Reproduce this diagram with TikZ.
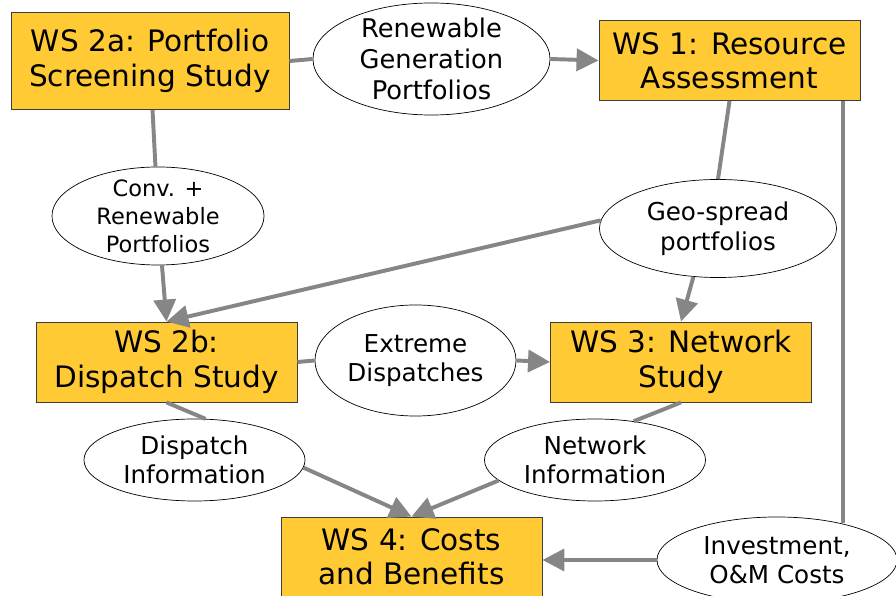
\documentclass[tikz,border=0pt]{standalone}
\usepackage{fontspec}
\setmainfont{DejaVu Sans}
\usetikzlibrary{shapes.geometric,arrows.meta}
\definecolor{wsgold}{RGB}{255,202,52}
\definecolor{wsedge}{RGB}{60,60,60}
\definecolor{flowgray}{RGB}{134,134,134}

\begin{document}
\begin{tikzpicture}[x=0.025cm, y=-0.025cm,
		ws/.style={draw=wsedge, line width=0.6pt, fill=wsgold, minimum width=6.525cm, minimum height=2cm, align=center, font=\fontsize{21}{24.5}\selectfont},
		info/.style={ellipse, draw=black, line width=0.5pt, fill=white, inner sep=-1cm, align=center, font=\fontsize{17.5}{21}\selectfont},
		link/.style={draw=flowgray, line width=2.8pt},
		flow/.style={link, -{Triangle[length=0.55cm, width=0.55cm]}}]
	\useasboundingbox (0,0) rectangle (896,596);
	
	% 1. work streams
	\node[ws, minimum width=6.95cm, minimum height=2.425cm] (ws2a) at (150,61) {WS 2a: Portfolio\\Screening Study};
	\node[ws] (ws1) at (729.5,60.5) {WS 1: Resource\\Assessment};
	\node[ws] (ws2b) at (166.5,362) {WS 2b:\\Dispatch Study};
	\node[ws] (ws3) at (681,362) {WS 3: Network\\Study};
	\node[ws] (ws4) at (411.5,557) {WS 4: Costs\\and Benefits};
	
	% 2. exchanged data
	\node[info, minimum width=5.925cm, minimum height=2.8cm, font=\fontsize{18.3}{22}\selectfont] (renew) at (431.5,59) {Renewable\\Generation\\Portfolios};
	\node[info, minimum width=5.3cm, minimum height=2.45cm, font=\fontsize{16}{20}\selectfont] (conv) at (158,216) {Conv. +\\Renewable\\Portfolios};
	\node[info, minimum width=5.925cm, minimum height=2.45cm] (geo) at (718,228.5) {Geo-spread\\portfolios};
	\node[info, minimum width=5.025cm, minimum height=2.775cm] (extreme) at (415.5,360.5) {Extreme\\Dispatches};
	\node[info, minimum width=5.525cm, minimum height=2.05cm] (dispinfo) at (194.5,460) {Dispatch\\Information};
	\node[info, minimum width=5.525cm, minimum height=2.05cm] (netinfo) at (595,460) {Network\\Information};
	\node[info, minimum width=6cm, minimum height=2.15cm] (invest) at (777,560) {Investment,\\O\&M Costs};
	
	% 3. links
	\draw[link] (ws2a.east) -- (renew.west);
	\draw[flow] (renew.east) -- (ws1.west);
	\draw[link] (ws2a) -- (conv);
	\draw[flow] (conv) -- (ws2b.north);
	\draw[link] (ws1.south) -- (geo.north);
	\draw[flow] (geo.176) -- (ws2b.north);
	\draw[flow] (geo.-117) -- (ws3.north);
	\draw[link] (ws2b.east) -- (extreme.west);
	\draw[flow] (extreme.east) -- (ws3.west);
	\draw[link] (ws2b.south) -- (dispinfo.75);
	\draw[flow] (dispinfo.-4) -- (ws4.north);
	\draw[link] (ws3.south) -- (netinfo.45);
	\draw[flow] (netinfo.-168) -- (ws4.north);
	
	% 4. cost path on the right
	\coordinate (drop) at (843,523);
	\draw[link] (drop |- ws1.south) -- (drop);
	\draw[flow] (invest.west) -- (invest.west -| ws4.east);
\end{tikzpicture}
\end{document}
